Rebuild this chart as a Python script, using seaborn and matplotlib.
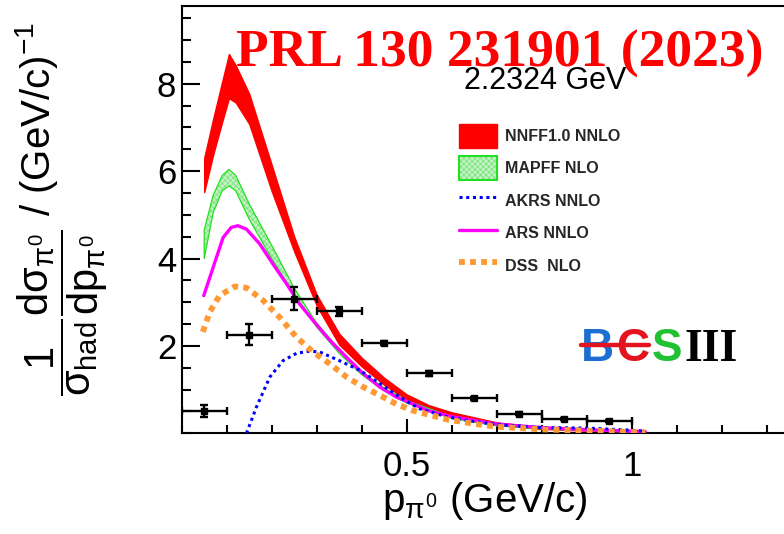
import numpy as np
import pandas as pd
import matplotlib
matplotlib.use("Agg")
import matplotlib.pyplot as plt
import matplotlib.font_manager as fm
from matplotlib.ticker import MultipleLocator, FixedLocator
from matplotlib.patches import Patch
from matplotlib.lines import Line2D
from matplotlib.legend_handler import HandlerTuple
import seaborn as sns

# ---------------- data ----------------
p_data = [0.05, 0.15, 0.25, 0.35, 0.45, 0.55, 0.65, 0.75, 0.85, 0.95]
y_data = [0.51, 2.26, 3.08, 2.79, 2.06, 1.37, 0.80, 0.45, 0.33, 0.28]
yerr_data = [0.14, 0.25, 0.26, 0.10, 0.05, 0.05, 0.04, 0.03, 0.03, 0.03]
xerr_data = [0.05] * 10

x_nnff = [0.05, 0.07, 0.09, 0.105, 0.12, 0.15, 0.2, 0.25, 0.3, 0.35, 0.4, 0.45,
          0.5, 0.55, 0.6, 0.7, 0.8, 0.9, 1.0, 1.03]
nnff_hi = [6.3, 7.2, 8.05, 8.68, 8.42, 7.77, 6.14, 4.5, 3.17, 2.28, 1.73, 1.27,
           0.89, 0.64, 0.48, 0.25, 0.14, 0.09, 0.05, 0.04]
nnff_lo = [5.52, 6.38, 7.13, 7.67, 7.57, 7.08, 5.54, 4.16, 2.92, 2.03, 1.53, 1.11,
           0.77, 0.55, 0.41, 0.19, 0.10, 0.06, 0.03, 0.02]

x_mapff = [0.05, 0.07, 0.09, 0.105, 0.12, 0.15, 0.2, 0.25, 0.3, 0.35, 0.4, 0.45,
           0.5, 0.6, 0.7, 0.8, 0.9, 1.0, 1.03]
mapff_hi = [4.65, 5.45, 5.9, 6.04, 5.9, 5.25, 4.3, 3.32, 2.52, 1.93, 1.41, 1.04,
            0.75, 0.38, 0.20, 0.12, 0.07, 0.04, 0.03]
mapff_lo = [4.0, 5.05, 5.55, 5.66, 5.55, 4.9, 4.0, 3.17, 2.43, 1.83, 1.34, 0.97,
            0.69, 0.34, 0.17, 0.10, 0.06, 0.03, 0.02]

x_ars = [0.049, 0.07, 0.092, 0.11, 0.125, 0.144, 0.173, 0.203, 0.233, 0.262, 0.292,
         0.329, 0.366, 0.403, 0.44, 0.477, 0.514, 0.547, 0.6, 0.7, 0.8, 0.9, 1.0, 1.03]
y_ars = [3.15, 3.8, 4.48, 4.71, 4.75, 4.67, 4.34, 3.87, 3.42, 2.96, 2.58,
         2.13, 1.74, 1.37, 1.06, 0.83, 0.67, 0.52, 0.38, 0.21, 0.13, 0.08, 0.05, 0.04]

x_akrs = [0.144, 0.166, 0.196, 0.225, 0.255, 0.284, 0.307, 0.351, 0.396, 0.44, 0.484,
          0.529, 0.588, 0.65, 0.7, 0.8, 0.9, 1.0, 1.03]
y_akrs = [0.0, 0.6, 1.29, 1.66, 1.83, 1.88, 1.86, 1.66, 1.44, 1.14, 0.83,
          0.56, 0.38, 0.27, 0.20, 0.13, 0.12, 0.07, 0.05]

x_dss = [0.047, 0.062, 0.084, 0.118, 0.144, 0.181, 0.218, 0.255, 0.292, 0.329, 0.366,
         0.403, 0.44, 0.477, 0.514, 0.551, 0.588, 0.648, 0.7, 0.8, 0.9, 1.0, 1.03]
y_dss = [2.32, 2.77, 3.15, 3.36, 3.33, 3.04, 2.65, 2.2, 1.86, 1.59, 1.29,
         1.06, 0.87, 0.67, 0.52, 0.42, 0.32, 0.22, 0.15, 0.09, 0.06, 0.03, 0.02]

legend_labels = ["NNFF1.0 NNLO", "MAPFF NLO", "AKRS NNLO", "ARS NNLO", "DSS  NLO"]
x_ticks = [0.5, 1.0]
x_ticklabels = ["0.5", "1"]
y_ticks = [2, 4, 6, 8]
y_ticklabels = ["2", "4", "6", "8"]

# ---------------- style ----------------
sns.set_theme(style="white")
plt.rcParams["font.family"] = ["Liberation Sans", "DejaVu Sans"]
plt.rcParams["mathtext.fontset"] = "custom"
plt.rcParams["mathtext.rm"] = "Liberation Sans"
plt.rcParams["mathtext.it"] = "Liberation Sans"
plt.rcParams["mathtext.bf"] = "Liberation Sans:bold"
plt.rcParams["hatch.linewidth"] = 0.5
plt.rcParams["axes.unicode_minus"] = False

RED = "#ff0000"
GREEN_FILL = "#c4f2c4"
GREEN_HATCH = "#6fe36f"
GREEN_EDGE = "#22e022"
BLUE = "#0000ff"
MAGENTA = "#ff00ff"
ORANGE = "#ff9933"

W, H = 784, 534
fig = plt.figure(figsize=(W / 100, H / 100), dpi=100)
fig.patch.set_facecolor("white")

x0_px, ppx = 181.7, 450.0
y0_px, ppy = 433.3, 43.7
top_px = 6.0
xmax = 1.4
ymax = (y0_px - top_px) / ppy
ax = fig.add_axes([x0_px / W, 1 - y0_px / H, xmax * ppx / W, (y0_px - top_px) / H])
ax.set_facecolor("white")

# bands
ax.fill_between(x_nnff, nnff_lo, nnff_hi, facecolor=RED, edgecolor=RED,
                lw=1.0, zorder=2)
ax.fill_between(x_mapff, mapff_lo, mapff_hi, facecolor=GREEN_FILL, edgecolor=GREEN_HATCH,
                hatch="xxxxxx", lw=0, zorder=3)
ax.fill_between(x_mapff, mapff_lo, mapff_hi, facecolor="none", edgecolor=GREEN_EDGE,
                lw=0.9, zorder=3)

# lines via seaborn
df_ars = pd.DataFrame({"p": x_ars, "v": y_ars})
df_akrs = pd.DataFrame({"p": x_akrs, "v": y_akrs})
df_dss = pd.DataFrame({"p": x_dss, "v": y_dss})
sns.lineplot(data=df_ars, x="p", y="v", ax=ax, color=MAGENTA, lw=2.4,
             sort=False, estimator=None, zorder=4)
sns.lineplot(data=df_akrs, x="p", y="v", ax=ax, color=BLUE, lw=2.2,
             linestyle=(0, (1, 1.2)), sort=False, estimator=None, zorder=5)
sns.lineplot(data=df_dss, x="p", y="v", ax=ax, color=ORANGE, lw=4.2,
             linestyle=(0, (1, 0.9)), sort=False, estimator=None, zorder=5)

# data points
ax.errorbar(p_data, y_data, xerr=xerr_data, yerr=yerr_data, fmt="s", color="black",
            ms=5, elinewidth=1.7, capsize=3, capthick=1.7, zorder=7)

# axes
ax.set_xlim(0, xmax)
ax.set_ylim(0, ymax)
ax.set_xlabel("")
ax.set_ylabel("")
ax.xaxis.set_major_locator(FixedLocator(x_ticks))
ax.set_xticklabels(x_ticklabels)
ax.xaxis.set_minor_locator(MultipleLocator(0.1))
ax.yaxis.set_major_locator(FixedLocator(y_ticks))
ax.set_yticklabels(y_ticklabels)
ax.yaxis.set_minor_locator(MultipleLocator(0.5))
ax.tick_params(which="both", direction="in", color="black", width=1.5,
               bottom=True, left=True, top=False, right=False,
               labelsize=25, labelcolor="black")
ax.tick_params(axis="x", which="major", length=10, pad=12)
ax.tick_params(axis="x", which="minor", length=6)
ax.tick_params(axis="y", which="major", length=13, pad=4)
ax.tick_params(axis="y", which="minor", length=6.5)
for s in ["left", "bottom", "top", "right"]:
    ax.spines[s].set_color("black")
    ax.spines[s].set_linewidth(1.5)
    ax.spines[s].set_visible(True)

# axis titles
fig.text(485 / W, 1 - 512 / H, r"p$_{\pi^{0}}$ (GeV/c)", fontsize=29,
         ha="center", va="baseline", color="black")
fig.text(63 / W, 1 - 396 / H,
         r"$\dfrac{1}{\sigma_{had}}\dfrac{d\sigma_{\pi^{0}}}{dp_{\pi^{0}}}$",
         fontsize=30, rotation=90, ha="center", va="bottom", color="black")
fig.text(37 / W, 1 - 216 / H, r"/ (GeV/c)$^{-1}$",
         fontsize=29, rotation=90, ha="center", va="bottom", color="black")

# annotations
fig.text(464 / W, 1 - 89 / H, "2.2324 GeV", fontsize=22, ha="left", va="baseline",
         color="black", zorder=9)
fig.text(499.5 / W, 1 - 66.7 / H, "PRL 130 231901 (2023)", fontsize=38.5,
         family=["Liberation Serif", "DejaVu Serif"], weight="bold", color=RED,
         ha="center", va="baseline", zorder=10)

# legend
green_h = (Patch(facecolor=GREEN_FILL, edgecolor=GREEN_HATCH, hatch="xxxxxx", lw=0),
           Patch(facecolor="none", edgecolor=GREEN_EDGE, lw=1.5))
handles = [
    Patch(facecolor=RED, edgecolor=RED),
    green_h,
    Line2D([], [], color=BLUE, lw=2.2, linestyle=(0, (1, 1.2))),
    Line2D([], [], color=MAGENTA, lw=2.4),
    Line2D([], [], color=ORANGE, lw=4.2, linestyle=(0, (1, 0.9))),
]
ax.legend(handles, legend_labels, loc="upper left",
          bbox_to_anchor=(459 / W, 1 - 124 / H), bbox_transform=fig.transFigure,
          frameon=False, borderpad=0, borderaxespad=0, handlelength=2.4,
          handleheight=1.9, labelspacing=0.55, handletextpad=0.5,
          handler_map={tuple: HandlerTuple(ndivide=1, pad=0)},
          prop=fm.FontProperties(family="Liberation Sans", weight="bold", size=11.5))

# BESIII logo (as text)
logo_size = 33
cy = 344.5
cap = logo_size / 72 * 100 * 0.716
base = 1 - (cy + cap / 2) / H
for ch, xc, col, fam in [("B", 597.5, "#1c6ed2", "Liberation Sans"),
                         ("C", 633, "#e3141f", "Liberation Sans"),
                         ("S", 667, "#22c133", "Liberation Sans"),
                         ("III", 711, "black", "Liberation Serif")]:
    fig.text(xc / W, base, ch, fontsize=logo_size, family=fam, weight="bold",
             color=col, ha="center", va="baseline", zorder=11)
fig.add_artist(Line2D([581 / W, 649 / W], [1 - cy / H, 1 - cy / H],
                      transform=fig.transFigure, color="#e3141f", lw=3.2, zorder=12))

fig.savefig("out.png", dpi=100, facecolor="white")
